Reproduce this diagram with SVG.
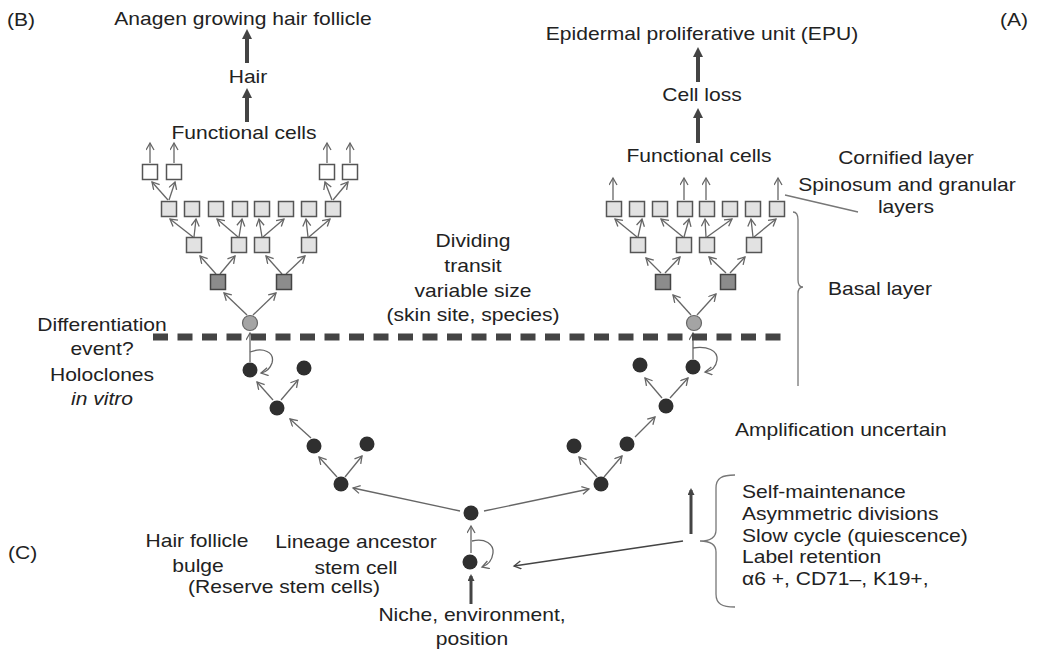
<svg xmlns="http://www.w3.org/2000/svg" width="1040" height="649" viewBox="0 0 1040 649">
  <defs>
    <marker id="open" markerUnits="userSpaceOnUse" markerWidth="12" markerHeight="12" refX="8" refY="4.5" orient="auto">
      <path d="M1,0.5 L8,4.5 L1,8.5" fill="none" stroke="#666" stroke-width="1.3"/>
    </marker>
    <marker id="openDark" markerUnits="userSpaceOnUse" markerWidth="12" markerHeight="12" refX="8" refY="4.5" orient="auto">
      <path d="M1,0.5 L8,4.5 L1,8.5" fill="none" stroke="#444" stroke-width="1.3"/>
    </marker>
    <marker id="solid" markerUnits="userSpaceOnUse" markerWidth="14" markerHeight="14" refX="6" refY="5" orient="auto">
      <path d="M0,0 L10,5 L0,10 Z" fill="#444"/>
    </marker>
    <marker id="solidSmall" markerUnits="userSpaceOnUse" markerWidth="10" markerHeight="10" refX="5" refY="3.5" orient="auto">
      <path d="M0,0 L7,3.5 L0,7 Z" fill="#444"/>
    </marker>
  </defs>
  <style>
    text { font-family: "Liberation Sans", Arial, sans-serif; font-size: 18px; fill: #222; }
    .c { text-anchor: middle; }
    .it { font-style: italic; }
    .sqW { fill: #ffffff; stroke: #555; stroke-width: 1.5; }
    .sqL { fill: #e2e2e2; stroke: #555; stroke-width: 1.5; }
    .sqD { fill: #8c8c8c; stroke: #444; stroke-width: 1.5; }
    .cG { fill: #a4a4a4; stroke: #666; stroke-width: 1.2; }
    .cD { fill: #2f2f2f; }
    .thin { fill: none; stroke: #666; stroke-width: 1.3; marker-end: url(#open); }
    .thinD { fill: none; stroke: #444; stroke-width: 1.5; marker-end: url(#openDark); }
    .thick { fill: none; stroke: #444; stroke-width: 4; marker-end: url(#solid); }
    .thickS { fill: none; stroke: #444; stroke-width: 3; marker-end: url(#solidSmall); }
    .line { fill: none; stroke: #777; stroke-width: 1.3; }
    .dash { fill: none; stroke: #444; stroke-width: 7; stroke-dasharray: 15 9.5; }
  </style>

  <!-- panel letters -->
  <text transform="translate(7,26) scale(1.17,1)">(B)</text>
  <text transform="translate(1000,26) scale(1.17,1)">(A)</text>
  <text transform="translate(8,559) scale(1.17,1)">(C)</text>

  <!-- connectors -->
  <g id="connectors">
    <!-- hair follicle output chain -->
    <path class="thick" d="M247,122 L247,92"/>
    <path class="thick" d="M247,63 L247,33"/>
    <!-- EPU output chain -->
    <path class="thick" d="M698,143 L698,112"/>
    <path class="thick" d="M698,82 L698,51"/>

    <!-- left transit tree -->
    <path class="thin" d="M247,315 L224,293"/>
    <path class="thin" d="M253,315 L276,293"/>
    <path class="thin" d="M216,274 L200,256"/>
    <path class="thin" d="M220,274 L235,256"/>
    <path class="thin" d="M282,274 L266,256"/>
    <path class="thin" d="M286,274 L305,256"/>
    <path class="thin" d="M193,237 L170,219"/>
    <path class="thin" d="M194,237 L196,219"/>
    <path class="thin" d="M238,237 L217,219"/>
    <path class="thin" d="M239,237 L242,219"/>
    <path class="thin" d="M262,237 L259,219"/>
    <path class="thin" d="M263,237 L284,219"/>
    <path class="thin" d="M308,237 L306,219"/>
    <path class="thin" d="M309,237 L330,219"/>
    <path class="thin" d="M168,200 L152,182"/>
    <path class="thin" d="M169,200 L175,182"/>
    <path class="thin" d="M332,200 L325,182"/>
    <path class="thin" d="M333,200 L348,182"/>
    <path class="thin" d="M150,163 L150,143"/>
    <path class="thin" d="M174,163 L174,143"/>
    <path class="thin" d="M327,163 L327,143"/>
    <path class="thin" d="M350,163 L350,143"/>

    <!-- right transit tree -->
    <path class="thin" d="M691,315 L673,295"/>
    <path class="thin" d="M697,315 L716,294"/>
    <path class="thin" d="M661,273 L646,258"/>
    <path class="thin" d="M665,273 L680,257"/>
    <path class="thin" d="M726,273 L709,257"/>
    <path class="thin" d="M730,273 L745,257"/>
    <path class="thin" d="M637,237 L615,219"/>
    <path class="thin" d="M638,237 L642,219"/>
    <path class="thin" d="M683,237 L661,219"/>
    <path class="thin" d="M684,237 L689,219"/>
    <path class="thin" d="M706,237 L705,219"/>
    <path class="thin" d="M707,237 L732,219"/>
    <path class="thin" d="M753,237 L751,219"/>
    <path class="thin" d="M754,237 L776,219"/>
    <path class="thin" d="M613,200 L613,178"/>
    <path class="thin" d="M684,200 L684,178"/>
    <path class="thin" d="M706,200 L706,178"/>
    <path class="thin" d="M778,200 L778,178"/>

    <!-- left stem cell chain -->
    <path class="thin" d="M250,362 L250,333"/>
    <path class="thin" d="M250,352 C263,347 275,352 272,363 C270,369 266,372 261,373"/>
    <path class="thin" d="M273,400 L257,382"/>
    <path class="thin" d="M281,400 L298,380"/>
    <path class="thin" d="M311,438 L290,419"/>
    <path class="thin" d="M337,477 L319,457"/>
    <path class="thin" d="M345,477 L362,456"/>

    <!-- right stem cell chain -->
    <path class="thin" d="M693,359 L693,333"/>
    <path class="thin" d="M693,348 C707,346 718,350 717,360 C716,367 712,371 705,372"/>
    <path class="thin" d="M670,398 L688,378"/>
    <path class="thin" d="M662,398 L645,378"/>
    <path class="thin" d="M635,437 L655,417"/>
    <path class="thin" d="M604,477 L622,456"/>
    <path class="thin" d="M597,477 L579,457"/>

    <!-- lineage ancestor branches -->
    <path class="thin" d="M460,511 L353,488"/>
    <path class="thin" d="M484,511 L589,489"/>
    <path class="thin" d="M471,553 L471,526"/>
    <path class="thin" d="M472,541 C485,538 494,544 493,553 C492,561 488,565 482,567"/>
    <path class="thickS" d="M471,604 L471,576"/>

    <!-- properties pointing to the stem cell -->
    <path class="thinD" d="M683,541 L514,566"/>
    <path class="thickS" d="M691,534 L691,490"/>

    <!-- basal layer boundary -->
    <path class="dash" d="M153,337 L783,337"/>
  </g>

  <!-- left tree cells -->
  <g id="left-tree">
    <circle class="cG" cx="250" cy="323" r="7.5"/>
    <rect class="sqD" x="210.5" y="274.5" width="15" height="15"/>
    <rect class="sqD" x="276.5" y="274.5" width="15" height="15"/>
    <rect class="sqL" x="186.5" y="237.5" width="15" height="15"/>
    <rect class="sqL" x="231.5" y="237.5" width="15" height="15"/>
    <rect class="sqL" x="254.5" y="237.5" width="15" height="15"/>
    <rect class="sqL" x="301.5" y="237.5" width="15" height="15"/>
    <rect class="sqL" x="161.5" y="201.5" width="15" height="15"/>
    <rect class="sqL" x="184.5" y="201.5" width="15" height="15"/>
    <rect class="sqL" x="208.5" y="201.5" width="15" height="15"/>
    <rect class="sqL" x="232.5" y="201.5" width="15" height="15"/>
    <rect class="sqL" x="254.5" y="201.5" width="15" height="15"/>
    <rect class="sqL" x="278.5" y="201.5" width="15" height="15"/>
    <rect class="sqL" x="301.5" y="201.5" width="15" height="15"/>
    <rect class="sqL" x="325.5" y="201.5" width="15" height="15"/>
    <rect class="sqW" x="142.5" y="164.5" width="15" height="15"/>
    <rect class="sqW" x="166.5" y="164.5" width="15" height="15"/>
    <rect class="sqW" x="319.5" y="164.5" width="15" height="15"/>
    <rect class="sqW" x="342.5" y="164.5" width="15" height="15"/>
  </g>

  <!-- right tree cells -->
  <g id="right-tree">
    <circle class="cG" cx="694" cy="323" r="7.5"/>
    <rect class="sqD" x="655.5" y="274.5" width="15" height="15"/>
    <rect class="sqD" x="720.5" y="274.5" width="15" height="15"/>
    <rect class="sqL" x="630.5" y="237.5" width="15" height="15"/>
    <rect class="sqL" x="676.5" y="237.5" width="15" height="15"/>
    <rect class="sqL" x="699.5" y="237.5" width="15" height="15"/>
    <rect class="sqL" x="746.5" y="237.5" width="15" height="15"/>
    <rect class="sqL" x="606.5" y="201.5" width="15" height="15"/>
    <rect class="sqL" x="629.5" y="201.5" width="15" height="15"/>
    <rect class="sqL" x="652.5" y="201.5" width="15" height="15"/>
    <rect class="sqL" x="677.5" y="201.5" width="15" height="15"/>
    <rect class="sqL" x="699.5" y="201.5" width="15" height="15"/>
    <rect class="sqL" x="722.5" y="201.5" width="15" height="15"/>
    <rect class="sqL" x="745.5" y="201.5" width="15" height="15"/>
    <rect class="sqL" x="769.5" y="201.5" width="15" height="15"/>
  </g>

  <!-- stem cell lineage -->
  <g id="stem-cells">
    <circle class="cD" cx="250" cy="370" r="7.5"/>
    <circle class="cD" cx="304" cy="368" r="7.5"/>
    <circle class="cD" cx="277" cy="408" r="7.5"/>
    <circle class="cD" cx="314" cy="446" r="7.5"/>
    <circle class="cD" cx="367" cy="444" r="7.5"/>
    <circle class="cD" cx="341" cy="484" r="7.5"/>
    <circle class="cD" cx="693" cy="367" r="7.5"/>
    <circle class="cD" cx="640" cy="365" r="7.5"/>
    <circle class="cD" cx="666" cy="406" r="7.5"/>
    <circle class="cD" cx="627" cy="444" r="7.5"/>
    <circle class="cD" cx="574" cy="446" r="7.5"/>
    <circle class="cD" cx="601" cy="484" r="7.5"/>
    <circle class="cD" cx="471" cy="513" r="7.5"/>
    <circle class="cD" cx="470" cy="562" r="7.5"/>
  </g>

  <!-- layer annotations -->
  <g id="layers">
    <path class="line" d="M785,195 L858,212"/>
    <path class="line" d="M793,212 C797,212 798,215 798,220 L798,280 C798,285 800,287 803,287 C800,287 798,289 798,294 L798,386"/>
    <text class="c" transform="translate(906,164) scale(1.17,1)">Cornified layer</text>
    <text class="c" transform="translate(907,191) scale(1.17,1)">Spinosum and granular</text>
    <text class="c" transform="translate(906,213) scale(1.17,1)">layers</text>
    <text class="c" transform="translate(880,295) scale(1.17,1)">Basal layer</text>
  </g>

  <!-- properties brace -->
  <g id="properties">
    <path class="line" d="M735,475 C722,475 716,478 716,488 L716,530 C716,538 710,541 700,541 C710,541 716,544 716,552 L716,594 C716,604 722,607 735,607"/>
    <text transform="translate(742,498) scale(1.17,1)">Self-maintenance</text>
    <text transform="translate(742,520) scale(1.17,1)">Asymmetric divisions</text>
    <text transform="translate(742,542) scale(1.17,1)">Slow cycle (quiescence)</text>
    <text transform="translate(742,563) scale(1.17,1)">Label retention</text>
    <text transform="translate(742,585) scale(1.17,1)">α6 +, CD71–, K19+,</text>
  </g>

  <!-- labels -->
  <g id="labels">
    <text class="c" transform="translate(243,25) scale(1.17,1)">Anagen growing hair follicle</text>
    <text class="c" transform="translate(248,83) scale(1.17,1)">Hair</text>
    <text class="c" transform="translate(244,139) scale(1.17,1)">Functional cells</text>
    <text class="c" transform="translate(702,40) scale(1.17,1)">Epidermal proliferative unit (EPU)</text>
    <text class="c" transform="translate(702,101) scale(1.17,1)">Cell loss</text>
    <text class="c" transform="translate(699,162) scale(1.17,1)">Functional cells</text>
    <text class="c" transform="translate(473,247) scale(1.17,1)">Dividing</text>
    <text class="c" transform="translate(473,272) scale(1.17,1)">transit</text>
    <text class="c" transform="translate(473,297) scale(1.17,1)">variable size</text>
    <text class="c" transform="translate(473,321) scale(1.17,1)">(skin site, species)</text>
    <text class="c" transform="translate(102,331) scale(1.17,1)">Differentiation</text>
    <text class="c" transform="translate(102,355) scale(1.17,1)">event?</text>
    <text class="c" transform="translate(102,381) scale(1.17,1)">Holoclones</text>
    <text class="c it" transform="translate(102,405) scale(1.17,1)">in vitro</text>
    <text transform="translate(735,436) scale(1.17,1)">Amplification uncertain</text>
    <text class="c" transform="translate(197,547) scale(1.17,1)">Hair follicle</text>
    <text class="c" transform="translate(198,572) scale(1.17,1)">bulge</text>
    <text class="c" transform="translate(284,593) scale(1.17,1)">(Reserve stem cells)</text>
    <text class="c" transform="translate(356,548) scale(1.17,1)">Lineage ancestor</text>
    <text class="c" transform="translate(356,574) scale(1.17,1)">stem cell</text>
    <text class="c" transform="translate(472,621) scale(1.17,1)">Niche, environment,</text>
    <text class="c" transform="translate(472,645) scale(1.17,1)">position</text>
  </g>
</svg>
